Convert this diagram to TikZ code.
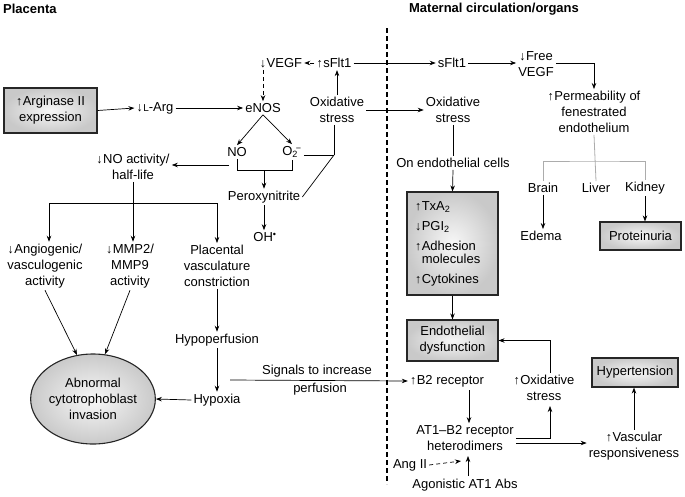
\documentclass[tikz,border=0pt]{standalone}
\usepackage{fontspec}
\setmainfont{Liberation Sans}
\usetikzlibrary{arrows.meta,shapes.geometric,calc}
\newcommand\myup{{\fontsize{12.5}{12}\selectfont ↑}\hspace{0.5pt}}
\newcommand\mydn{{\fontsize{12.5}{12}\selectfont ↓}\hspace{0.5pt}}
\begin{document}
\begin{tikzpicture}[x=1pt,y=-1pt,
  txt/.style={font=\fontsize{13}{16}\selectfont, align=center, inner sep=2pt},
  ttl/.style={font=\bfseries\fontsize{13}{16}\selectfont, inner sep=0pt},
  box/.style={txt, draw=black!85, line width=1.1pt, inner color=gray!6, outer color=gray!42},
  ell/.style={box, ellipse, inner sep=0pt, minimum width=109pt, minimum height=90pt},
  arr/.style={-{Stealth[length=6pt,width=4.5pt]}, line width=0.7pt},
  ln/.style={line width=0.7pt},
  gl/.style={draw=gray!65, line width=0.8pt},
  dsh/.style={dash pattern=on 4pt off 3pt}]
\useasboundingbox (0,0) rectangle (685,496);

% titles and divider
\node[ttl, anchor=west] (tplac) at (3,9) {Placenta};
\node[ttl] (tmat) at (494,9) {Maternal circulation/organs};
\draw[line width=1.2pt, dash pattern=on 5pt off 3pt] (387,28) -- (387,484);

% placenta side
\node[txt] (vegf) at (281,63) {\mydn VEGF};
\node[txt] (sflt) at (334,63) {\myup sFlt1};
\node[box, minimum width=93pt, minimum height=45pt] (arg) at (50.5,110.5) {\myup Arginase II\\expression};
\node[txt] (larg) at (155,108) {\mydn{\fontsize{10}{10}\selectfont L}-Arg};
\node[txt] (enos) at (263,108) {eNOS};
\node[txt] (ox1) at (337,110) {Oxidative\\stress};
\node[txt] (no) at (237,152) {NO};
\node[txt] (o2) at (292,152) {O\textsubscript{2}\kern-2pt\textsuperscript{−}};
\node[txt] (perox) at (264,197) {Peroxynitrite};
\node[txt] (oh) at (265,237) {OH\textsuperscript{•}};
\node[txt] (noact) at (133,167) {\mydn NO activity/\\half-life};
\node[txt] (angio) at (45,266) {\mydn Angiogenic/\\vasculogenic\\activity};
\node[txt] (mmp) at (130,266) {\mydn MMP2/\\MMP9\\activity};
\node[txt] (plac) at (217,266) {Placental\\vasculature\\constriction};
\node[txt] (hypop) at (217,340) {Hypoperfusion};
\node[txt] (hypox) at (217,400) {Hypoxia};
\node[ell] (abn) at (93,399) {Abnormal\\cytotrophoblast\\invasion};
\node[txt] (sig1) at (317,371) {Signals to increase};
\node[txt] (sig2) at (320,389) {perfusion};

% maternal side
\node[txt] (sflt2) at (452,63) {sFlt1};
\node[txt] (free) at (536,64) {\mydn Free\\VEGF};
\node[txt] (perm) at (594,112) {\myup Permeability of\\fenestrated\\endothelium};
\node[txt] (brain) at (543,188) {Brain};
\node[txt] (liver) at (596,188) {Liver};
\node[txt] (kidney) at (645,188) {Kidney};
\node[txt] (edema) at (541,236) {Edema};
\node[box, minimum width=81pt, minimum height=28pt] (prot) at (640.5,236) {Proteinuria};
\node[txt] (ox2) at (453,110) {Oxidative\\stress};
\node[txt] (onendo) at (453,163) {On endothelial cells};
\node[box, align=left, text width=75pt, inner xsep=8pt, minimum width=91pt, minimum height=103pt] (bigbox) at (452.5,243.5)
  {\myup TxA\textsubscript{2}\\[4pt]\mydn PGI\textsubscript{2}\\[4pt]\myup Adhesion\\[-3pt]\hphantom{\myup}molecules\\[4pt]\myup Cytokines};
\node[box, minimum width=91pt, minimum height=41pt] (endo) at (452.5,340.5) {Endothelial\\dysfunction};
\node[txt] (b2) at (447,381) {\myup B2 receptor};
\node[txt] (ox3) at (544,388) {\myup Oxidative\\stress};
\node[box, minimum width=86pt, minimum height=29pt] (hyp) at (635,372.5) {Hypertension};
\node[txt] (at1) at (465,438) {AT1–B2 receptor\\heterodimers};
\node[txt] (vasc) at (634,446) {\myup Vascular\\responsiveness};
\node[txt] (ang) at (410,465) {Ang II};
\node[txt] (agon) at (465,485) {Agonistic AT1 Abs};

% helper coordinates
\coordinate (nb) at (264,170);
\coordinate (yj) at (334,155);
\coordinate (nol) at (229,165);
\coordinate (nj) at (133,203);
\coordinate (ja) at (49,203);
\coordinate (jc) at (217,203);
\coordinate (sigs) at (230,380);
\coordinate (b2a) at (469,390);
\coordinate (ox3b) at (550,406);
\coordinate (angt) at (461,461);
\coordinate (agt) at (468,476);
\coordinate (agh) at (468,456);
\coordinate (pj) at (595,161);
\coordinate (a5) at ($(at1.east)+(0,5)$);

% placenta connectors
\draw[arr, dsh] (sflt.west) -- (vegf.east);
\draw[arr, dsh] (vegf.south -| enos.north) -- (enos.north);
\draw[arr] (arg.east) -- (larg.west);
\draw[arr] (larg.east) -- (enos.west);
\draw[arr] (enos.south) -- (no.north);
\draw[arr] (enos.south) -- (o2.north);
\draw[ln] (no.south) -- (no.south |- nb) -- (o2.south |- nb) -- (o2.south);
\draw[arr] (nb) -- (perox.north);
\draw[arr] (perox.south) -- (perox.south |- oh.north);
\draw[arr] (nol) -- (nol -| noact.east);
\draw[arr] (ox1.north) -- (ox1.north |- sflt.south);
\draw[ln] (ox1.south -| yj) -- (yj);
\draw[ln] (o2.east |- yj) -- (yj);
\draw[ln] (yj) -- (perox.east);
\draw[ln] (noact.south) -- (nj);
\draw[ln] (ja) -- (jc);
\draw[arr] (ja) -- (ja |- angio.north);
\draw[arr] (nj) -- (nj |- mmp.north);
\draw[arr] (jc) -- (plac.north);
\draw[arr] (angio.south) -- (abn.110);
\draw[arr] (mmp.south) -- (abn.75);
\draw[arr] (plac.south) -- (hypop.north);
\draw[arr] (hypop.south) -- (hypox.north);
\draw[arr] (hypox.west) -- (abn.east);
\draw[arr] (sigs) -- (b2.west);

% across and maternal connectors
\draw[arr] (sflt.east) -- (sflt2.west);
\draw[arr] (sflt2.east) -- (sflt2.east -| free.west);
\draw[arr] (free.east |- sflt2.east) -| (perm.north);
\draw[gl] (perm.south) -- (liver.north);
\draw[gl] (brain.north) |- (pj) -| (kidney.north);
\draw[arr] (brain.south) -- (brain.south |- edema.north);
\draw[arr] (kidney.south) -- (kidney.south |- prot.north);
\draw[arr] (ox1.east) -- (ox2.west);
\draw[ln] (ox2.south) -- (onendo.north);
\draw[arr] (onendo.south) -- (bigbox.north);
\draw[arr] (bigbox.south) -- (endo.north);
\draw[arr] (b2a) -- (b2a |- at1.north);
\draw[arr] (at1.east) -| (ox3b);
\draw[arr] (ox3.north -| ox3b) |- (endo.east);
\draw[arr] (a5) -- (a5 -| vasc.west);
\draw[arr] (vasc.north) -- (vasc.north |- hyp.south);
\draw[arr, dsh] (ang.east) -- (angt);
\draw[arr] (agt) -- (agh);
\end{tikzpicture}
\end{document}
